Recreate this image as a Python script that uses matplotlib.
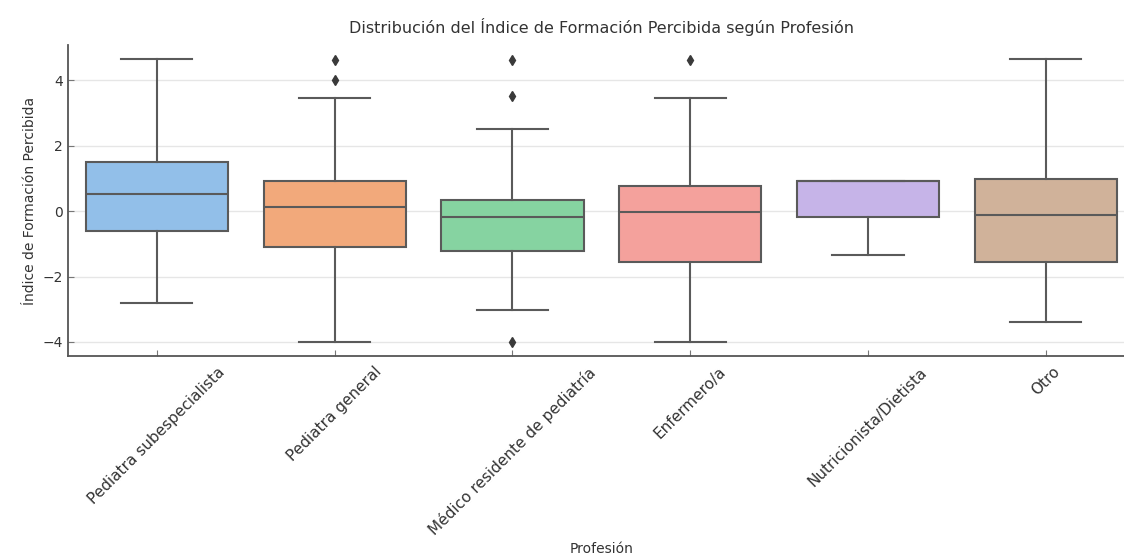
import matplotlib
matplotlib.use("Agg")
import matplotlib.pyplot as plt

# summary stats per profession
profesiones = ["Pediatra subespecialista", "Pediatra general",
               "Médico residente de pediatría", "Enfermero/a",
               "Nutricionista/Dietista", "Otro"]
whislo = [-2.80, -4.00, -3.03, -4.00, -1.34, -3.39]
q1 = [-0.59, -1.09, -1.23, -1.56, -0.19, -1.56]
med = [0.52, 0.12, -0.18, -0.02, 0.91, -0.11]
q3 = [1.52, 0.93, 0.35, 0.78, 0.91, 0.98]
whishi = [4.67, 3.45, 2.51, 3.45, 0.91, 4.67]
fliers = [[], [4.64, 4.03], [4.64, 3.53, -4.00], [4.64], [], []]

colores = ["#92bfe9", "#f2a97b", "#86d3a1", "#f4a19c", "#c6b4e8", "#d0b29a"]

stats = []
for i, nombre in enumerate(profesiones):
    stats.append(dict(label=nombre, whislo=whislo[i], q1=q1[i], med=med[i],
                      q3=q3[i], whishi=whishi[i], fliers=fliers[i]))

fig = plt.figure(figsize=(11.24, 5.58), dpi=100)
ax = fig.add_axes([0.0605, 0.362, 0.949, 0.557])

gris = "#5a5a5a"
bp = ax.bxp(stats, positions=range(len(profesiones)), widths=0.8,
            patch_artist=True, showfliers=True,
            boxprops=dict(edgecolor=gris, linewidth=1.5),
            medianprops=dict(color=gris, linewidth=1.5),
            whiskerprops=dict(color=gris, linewidth=1.5),
            capprops=dict(color=gris, linewidth=1.5),
            flierprops=dict(marker="d", markerfacecolor="#3a3a3a",
                            markeredgecolor="#3a3a3a", markersize=5))
for caja, c in zip(bp["boxes"], colores):
    caja.set_facecolor(c)
# caps are half the box width
for cap in bp["caps"]:
    x0, x1 = cap.get_xdata()
    mid = (x0 + x1) / 2
    cap.set_xdata([mid - 0.2, mid + 0.2])

ax.set_xlim(-0.5, 5.5)
ax.set_ylim(-4.43, 5.08)
ax.set_yticks([-4, -2, 0, 2, 4])
ax.yaxis.grid(True, color="#e6e6e6", linewidth=1)
ax.set_axisbelow(True)

for s in ["top", "right"]:
    ax.spines[s].set_visible(False)
for s in ["left", "bottom"]:
    ax.spines[s].set_color("#555555")
    ax.spines[s].set_linewidth(1.3)
ax.tick_params(direction="in", length=4, color="#777777", labelsize=10,
               labelcolor="#333333")
ax.tick_params(axis="x", labelsize=11, pad=6)

ax.set_xticks(range(len(profesiones)))
ax.set_xticklabels(profesiones, rotation=45, ha="center")
ax.set_ylabel("Índice de Formación Percibida", fontsize=10, color="#333333")
ax.set_title("Distribución del Índice de Formación Percibida según Profesión",
             fontsize=11.5, color="#333333", pad=9)
# x label sits just under the longest rotated tick label
fig.text(0.535, 0.003, "Profesión", fontsize=10, color="#333333",
         ha="center", va="bottom")

fig.savefig("out.png", dpi=100)
